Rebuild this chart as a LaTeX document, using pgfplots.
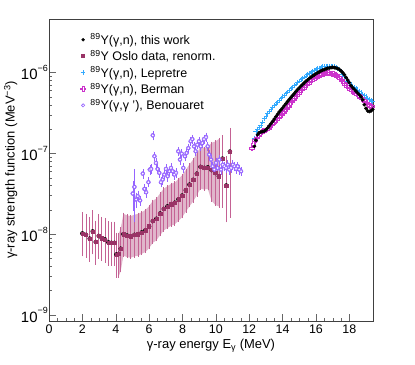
\documentclass[border=0pt]{standalone}
\usepackage{fontspec}
\setmainfont{Liberation Sans}
\usepackage{pgfplots}
\usepackage{pgfplotstable}
\pgfplotsset{compat=1.18}
\definecolor{oslocolor}{RGB}{153,51,102}
\definecolor{oslobar}{RGB}{196,98,148}
\definecolor{oslobandcolor}{RGB}{224,182,203}
\definecolor{lepcolor}{RGB}{51,170,255}
\definecolor{bermancolor}{RGB}{204,51,204}
\definecolor{benoucolor}{RGB}{150,100,255}

\newcommand{\pw}[1]{10\raisebox{0.55em}{\fontsize{9}{9}\selectfont #1}}

% open cross marker (ROOT style 28)
\pgfdeclareplotmark{ocross}{%
  \pgfpathmoveto{\pgfqpoint{-0.33\pgfplotmarksize}{\pgfplotmarksize}}%
  \pgfpathlineto{\pgfqpoint{0.33\pgfplotmarksize}{\pgfplotmarksize}}%
  \pgfpathlineto{\pgfqpoint{0.33\pgfplotmarksize}{0.33\pgfplotmarksize}}%
  \pgfpathlineto{\pgfqpoint{\pgfplotmarksize}{0.33\pgfplotmarksize}}%
  \pgfpathlineto{\pgfqpoint{\pgfplotmarksize}{-0.33\pgfplotmarksize}}%
  \pgfpathlineto{\pgfqpoint{0.33\pgfplotmarksize}{-0.33\pgfplotmarksize}}%
  \pgfpathlineto{\pgfqpoint{0.33\pgfplotmarksize}{-\pgfplotmarksize}}%
  \pgfpathlineto{\pgfqpoint{-0.33\pgfplotmarksize}{-\pgfplotmarksize}}%
  \pgfpathlineto{\pgfqpoint{-0.33\pgfplotmarksize}{-0.33\pgfplotmarksize}}%
  \pgfpathlineto{\pgfqpoint{-\pgfplotmarksize}{-0.33\pgfplotmarksize}}%
  \pgfpathlineto{\pgfqpoint{-\pgfplotmarksize}{0.33\pgfplotmarksize}}%
  \pgfpathlineto{\pgfqpoint{-0.33\pgfplotmarksize}{0.33\pgfplotmarksize}}%
  \pgfpathclose
  \pgfusepathqstroke}

% Oslo data: energy, value, error up, error down
\pgfplotstableread{
x y ep em
2.00 1.02e-8 0.78e-8 0.47e-8
2.22 0.98e-8 0.74e-8 0.45e-8
2.44 0.88e-8 0.70e-8 0.41e-8
2.62 1.08e-8 0.84e-8 0.50e-8
2.80 0.80e-8 0.62e-8 0.37e-8
2.98 0.95e-8 0.75e-8 0.44e-8
3.16 0.89e-8 0.69e-8 0.41e-8
3.36 0.86e-8 0.67e-8 0.40e-8
3.56 0.79e-8 0.61e-8 0.37e-8
3.74 0.78e-8 0.60e-8 0.36e-8
3.92 0.78e-8 0.60e-8 0.36e-8
4.04 0.56e-8 0.44e-8 0.26e-8
4.18 0.57e-8 0.44e-8 0.27e-8
4.30 0.66e-8 0.52e-8 0.31e-8
4.46 1.00e-8 0.78e-8 0.46e-8
4.68 0.96e-8 0.75e-8 0.44e-8
4.90 0.94e-8 0.73e-8 0.43e-8
5.12 0.98e-8 0.76e-8 0.45e-8
5.34 1.00e-8 0.78e-8 0.46e-8
5.56 1.05e-8 0.82e-8 0.48e-8
5.78 1.12e-8 0.87e-8 0.52e-8
6.00 1.25e-8 0.97e-8 0.58e-8
6.22 1.45e-8 1.13e-8 0.67e-8
6.44 1.55e-8 1.21e-8 0.71e-8
6.66 1.80e-8 1.40e-8 0.83e-8
6.88 2.05e-8 1.60e-8 0.94e-8
7.10 2.20e-8 1.72e-8 1.01e-8
7.32 2.35e-8 1.83e-8 1.08e-8
7.54 2.45e-8 1.91e-8 1.13e-8
7.76 2.70e-8 2.11e-8 1.24e-8
7.98 3.00e-8 2.34e-8 1.38e-8
8.20 3.50e-8 2.73e-8 1.61e-8
8.42 4.10e-8 3.20e-8 1.89e-8
8.64 4.70e-8 3.67e-8 2.16e-8
8.86 5.60e-8 4.37e-8 2.58e-8
9.08 6.80e-8 5.30e-8 3.13e-8
9.30 6.60e-8 5.10e-8 3.04e-8
9.52 6.70e-8 5.20e-8 3.08e-8
9.74 6.20e-8 7.30e-8 3.60e-8
9.96 5.70e-8 8.30e-8 3.40e-8
10.18 5.20e-8 9.80e-8 3.00e-8
10.40 8.60e-8 7.60e-8 6.40e-8
10.62 4.00e-8 5.00e-8 2.55e-8
10.84 1.05e-7 9.50e-8 8.84e-8
}\oslo

% shaded band of the Oslo data: upper edge left to right, lower edge back
\pgfplotstableread{
x y
4.18 1.01e-8
4.30 1.18e-8
4.46 1.78e-8
4.68 1.71e-8
4.90 1.67e-8
5.12 1.74e-8
5.34 1.78e-8
5.56 1.87e-8
5.78 1.99e-8
6.00 2.22e-8
6.22 2.58e-8
6.44 2.76e-8
6.66 3.20e-8
6.88 3.65e-8
7.10 3.92e-8
7.32 4.18e-8
7.54 4.36e-8
7.76 4.81e-8
7.98 5.34e-8
8.20 6.23e-8
8.42 7.30e-8
8.64 8.37e-8
8.86 9.97e-8
9.08 1.21e-7
9.30 1.17e-7
9.52 1.19e-7
9.74 1.35e-7
9.96 1.40e-7
10.18 1.50e-7
10.18 2.20e-8
9.96 2.30e-8
9.74 2.60e-8
9.52 3.62e-8
9.30 3.56e-8
9.08 3.67e-8
8.86 3.02e-8
8.64 2.54e-8
8.42 2.21e-8
8.20 1.89e-8
7.98 1.62e-8
7.76 1.46e-8
7.54 1.32e-8
7.32 1.27e-8
7.10 1.19e-8
6.88 1.11e-8
6.66 9.7e-9
6.44 8.4e-9
6.22 7.8e-9
6.00 6.7e-9
5.78 6.0e-9
5.56 5.7e-9
5.34 5.4e-9
5.12 5.3e-9
4.90 5.1e-9
4.68 5.2e-9
4.46 5.4e-9
4.30 3.5e-9
4.18 3.0e-9
}\osloband

% Benouaret (gamma,gamma')
\pgfplotstableread{
x y e
5.02 3.18e-8 1.2e-8
5.12 3.84e-8 2.4e-8
5.22 2.68e-8 0.5e-8
5.32 2.95e-8 0.4e-8
5.46 2.61e-8 0.3e-8
5.62 5.61e-8 0.6e-8
5.72 3.63e-8 0.4e-8
5.82 3.30e-8 0.4e-8
5.96 4.39e-8 0.5e-8
6.04 6.29e-8 0.7e-8
6.12 6.41e-8 0.7e-8
6.22 1.67e-7 0.18e-7
6.32 9.20e-8 0.9e-8
6.41 7.60e-8 0.8e-8
6.51 6.41e-8 0.7e-8
6.61 5.73e-8 0.6e-8
6.71 4.39e-8 0.5e-8
6.81 4.73e-8 0.5e-8
6.91 5.46e-8 0.6e-8
7.01 6.41e-8 0.7e-8
7.11 5.20e-8 0.6e-8
7.21 6.00e-8 0.6e-8
7.31 6.59e-8 0.7e-8
7.41 6.00e-8 0.6e-8
7.51 5.46e-8 0.6e-8
7.61 5.73e-8 0.6e-8
7.75 1.06e-7 0.11e-7
7.85 8.36e-8 0.9e-8
7.95 9.91e-8 1.0e-8
8.05 6.59e-8 0.7e-8
8.15 9.20e-8 0.9e-8
8.25 1.01e-7 0.10e-7
8.35 1.16e-7 0.12e-7
8.49 1.41e-7 0.14e-7
8.59 1.50e-7 0.15e-7
8.69 1.22e-7 0.12e-7
8.79 1.06e-7 0.11e-7
8.89 1.28e-7 0.13e-7
8.99 1.41e-7 0.14e-7
9.09 1.22e-7 0.12e-7
9.19 1.34e-7 0.13e-7
9.29 1.50e-7 0.15e-7
9.41 1.59e-7 0.16e-7
9.51 1.22e-7 0.12e-7
9.61 9.64e-8 1.0e-8
9.71 8.36e-8 0.9e-8
9.81 6.91e-8 0.7e-8
9.91 6.29e-8 0.7e-8
10.01 7.60e-8 0.8e-8
10.11 6.59e-8 0.7e-8
10.21 8.36e-8 0.9e-8
10.31 6.29e-8 0.7e-8
10.41 7.24e-8 0.8e-8
10.51 6.91e-8 0.7e-8
10.61 6.59e-8 0.7e-8
10.71 7.24e-8 0.8e-8
10.81 6.29e-8 0.7e-8
10.91 6.59e-8 0.7e-8
11.01 7.24e-8 0.8e-8
11.11 6.91e-8 0.7e-8
11.21 6.41e-8 0.7e-8
11.31 6.91e-8 0.7e-8
11.41 6.29e-8 0.7e-8
11.51 6.00e-8 0.6e-8
}\benou

% this work
\pgfplotstableread{
x y
12.31 1.22e-7
12.40 1.45e-7
12.50 1.70e-7
12.60 1.80e-7
12.70 1.84e-7
12.80 1.86e-7
12.90 1.88e-7
13.00 1.95e-7
13.10 2.05e-7
13.20 2.18e-7
13.30 2.32e-7
13.40 2.48e-7
13.50 2.65e-7
13.60 2.85e-7
13.70 3.05e-7
13.80 3.25e-7
13.90 3.45e-7
14.00 3.65e-7
14.10 3.88e-7
14.20 4.12e-7
14.30 4.37e-7
14.40 4.65e-7
14.50 4.92e-7
14.60 5.20e-7
14.70 5.50e-7
14.80 5.82e-7
14.90 6.15e-7
15.00 6.45e-7
15.10 6.80e-7
15.20 7.10e-7
15.30 7.45e-7
15.40 7.80e-7
15.50 8.10e-7
15.60 8.45e-7
15.70 8.75e-7
15.80 9.05e-7
15.90 9.35e-7
16.00 9.65e-7
16.10 9.95e-7
16.20 1.02e-6
16.30 1.05e-6
16.40 1.07e-6
16.50 1.09e-6
16.60 1.11e-6
16.70 1.13e-6
16.80 1.14e-6
16.90 1.15e-6
17.00 1.16e-6
17.10 1.15e-6
17.20 1.14e-6
17.30 1.12e-6
17.40 1.09e-6
17.50 1.05e-6
17.60 1.00e-6
17.70 9.40e-7
17.80 8.70e-7
17.90 8.10e-7
18.00 7.50e-7
18.10 6.90e-7
18.20 6.50e-7
18.30 6.20e-7
18.40 5.90e-7
18.50 5.60e-7
18.60 5.30e-7
18.70 5.00e-7
18.80 4.60e-7
18.90 4.00e-7
19.00 3.60e-7
19.10 3.35e-7
19.20 3.30e-7
19.30 3.35e-7
19.40 3.50e-7
}\thiswork

% Lepretre
\pgfplotstableread{
x y
12.30 1.55e-7
12.40 1.85e-7
12.50 2.00e-7
12.60 2.10e-7
12.70 2.25e-7
12.80 2.45e-7
12.90 2.70e-7
13.00 2.90e-7
13.10 3.10e-7
13.20 3.30e-7
13.30 3.50e-7
13.40 3.70e-7
13.50 3.90e-7
13.60 4.10e-7
13.70 4.30e-7
13.80 4.50e-7
13.90 4.75e-7
14.00 5.00e-7
14.10 5.25e-7
14.20 5.50e-7
14.30 5.75e-7
14.40 6.00e-7
14.50 6.30e-7
14.60 6.60e-7
14.70 6.90e-7
14.80 7.20e-7
14.90 7.50e-7
15.00 7.85e-7
15.10 8.20e-7
15.20 8.50e-7
15.30 8.80e-7
15.40 9.10e-7
15.50 9.40e-7
15.60 9.70e-7
15.70 1.00e-6
15.80 1.03e-6
15.90 1.06e-6
16.00 1.09e-6
16.10 1.12e-6
16.20 1.14e-6
16.30 1.16e-6
16.40 1.18e-6
16.50 1.19e-6
16.60 1.20e-6
16.70 1.20e-6
16.80 1.20e-6
16.90 1.20e-6
17.00 1.19e-6
17.10 1.18e-6
17.20 1.16e-6
17.30 1.13e-6
17.40 1.09e-6
17.50 1.03e-6
17.60 9.60e-7
17.70 9.00e-7
17.80 8.40e-7
17.90 7.90e-7
18.00 7.50e-7
18.10 7.10e-7
18.20 6.80e-7
18.30 6.55e-7
18.40 6.30e-7
18.50 6.10e-7
18.60 5.85e-7
18.70 5.60e-7
18.80 5.40e-7
18.90 5.20e-7
19.00 5.00e-7
19.10 4.80e-7
19.20 4.65e-7
19.30 4.50e-7
19.40 4.35e-7
}\lepretre

% Berman
\pgfplotstableread{
x y
12.15 1.16e-7
12.25 1.30e-7
12.35 1.45e-7
12.45 1.55e-7
12.55 1.65e-7
12.65 1.75e-7
12.75 1.85e-7
12.85 1.90e-7
12.95 1.93e-7
13.05 1.98e-7
13.15 2.05e-7
13.25 2.15e-7
13.35 2.25e-7
13.45 2.37e-7
13.55 2.50e-7
13.65 2.62e-7
13.75 2.75e-7
13.85 2.88e-7
13.95 3.05e-7
14.05 3.22e-7
14.15 3.40e-7
14.25 3.60e-7
14.35 3.85e-7
14.45 4.10e-7
14.55 4.40e-7
14.65 4.70e-7
14.75 4.95e-7
14.85 5.20e-7
14.95 5.50e-7
15.05 5.80e-7
15.15 6.10e-7
15.25 6.40e-7
15.35 6.70e-7
15.45 7.05e-7
15.55 7.35e-7
15.65 7.70e-7
15.75 8.00e-7
15.85 8.30e-7
15.95 8.60e-7
16.05 8.85e-7
16.15 9.10e-7
16.25 9.40e-7
16.35 9.55e-7
16.45 9.70e-7
16.55 9.80e-7
16.65 9.85e-7
16.75 9.85e-7
16.85 9.80e-7
16.95 9.70e-7
17.05 9.60e-7
17.15 9.40e-7
17.25 9.15e-7
17.35 8.80e-7
17.45 8.50e-7
17.55 8.00e-7
17.65 7.50e-7
17.75 7.10e-7
17.85 6.80e-7
17.95 6.50e-7
18.05 6.25e-7
18.15 6.00e-7
18.25 5.80e-7
18.35 5.60e-7
18.45 5.40e-7
18.55 5.20e-7
18.65 5.05e-7
18.75 4.80e-7
18.85 4.55e-7
18.95 4.35e-7
19.05 4.20e-7
19.15 4.00e-7
19.25 3.90e-7
19.35 3.80e-7
}\berman

\begin{document}
\begin{tikzpicture}
\useasboundingbox (-49bp,-44bp) rectangle (366bp,321bp);
\begin{axis}[
  at={(0,0)}, anchor=south west,
  scale only axis, width=324bp, height=302bp,
  xmin=0, xmax=19.42,
  ymode=log, ymin=8.4e-10, ymax=4.6e-6,
  xtick={0,2,...,18}, minor x tick num=3,
  ytick={1e-9,1e-8,1e-7,1e-6},
  yticklabels={\pw{−9},\pw{−8},\pw{−7},\pw{−6}},
  tick align=inside, tick pos=left,
  major tick length=7bp, minor tick length=3.5bp,
  axis line style={black!75}, tick style={black!60},
  /pgf/number format/assume math mode=true,
  xticklabel style={font=\fontsize{12.5}{14}\selectfont},
  yticklabel style={font=\fontsize{15}{16}\selectfont, inner sep=1bp},
  label style={font=\fontsize{13}{15}\selectfont},
  xlabel style={yshift=1bp},
  ylabel style={yshift=-1bp},
  xlabel={γ-ray energy E\textsubscript{γ} (MeV)},
  ylabel={γ-ray strength function (MeV\textsuperscript{−3})},
  legend style={at={(0.088,0.965)}, anchor=north west, draw=none, fill=none,
    font=\fontsize{12.5}{14}\selectfont, row sep=0.5bp,
    nodes={inner xsep=5bp}},
  legend cell align=left,
]
% legend entries first
\addlegendimage{only marks, mark=*, mark size=1.5pt, black}
\addlegendentry{\textsuperscript{89}Y(γ,n), this work}
\addlegendimage{only marks, mark=square*, mark size=1.5pt, oslocolor}
\addlegendentry{\textsuperscript{89}Y Oslo data, renorm.}
\addlegendimage{only marks, mark=+, mark size=2.4pt, lepcolor, mark options={line width=0.6pt}}
\addlegendentry{\textsuperscript{89}Y(γ,n), Lepretre}
\addlegendimage{only marks, mark=ocross, mark size=2.4pt, bermancolor, mark options={line width=0.6pt}}
\addlegendentry{\textsuperscript{89}Y(γ,n), Berman}
\addlegendimage{only marks, mark=o, mark size=1.6pt, benoucolor, mark options={line width=0.6pt}}
\addlegendentry{\textsuperscript{89}Y(γ,γ '), Benouaret}

\addplot[forget plot, fill=oslobandcolor, draw=none] table[x=x,y=y]{\osloband};

% Oslo: error bars first, squares on top
\addplot[forget plot, only marks, mark=none,
  error bars/.cd, y dir=both, y explicit,
  error bar style={oslobar, line width=0.6pt},
  error mark options={oslobar, mark size=1.2pt, line width=0.6pt}]
  table[x=x, y=y, y error plus=ep, y error minus=em]{\oslo};
\addplot[forget plot, only marks, mark=square*, mark size=1.6pt, oslocolor] table[x=x, y=y]{\oslo};

% Benouaret: error bars, then open circles with white inside
\addplot[forget plot, only marks, mark=none, benoucolor,
  error bars/.cd, y dir=both, y explicit,
  error bar style={benoucolor, line width=0.5pt},
  error mark options={benoucolor, mark size=1pt, line width=0.5pt}]
  table[x=x, y=y, y error=e]{\benou};
\addplot[forget plot, only marks, mark=*, mark size=1.7pt, mark options={draw=benoucolor, fill=white, line width=0.6pt}]
  table[x=x, y=y]{\benou};

\addplot[forget plot, only marks, mark=+, mark size=2.4pt, lepcolor, mark options={line width=0.6pt}] table[x=x,y=y]{\lepretre};
\addplot[forget plot, only marks, mark=ocross, mark size=2.4pt, bermancolor, mark options={line width=0.6pt}] table[x=x,y=y]{\berman};
\addplot[forget plot, only marks, mark=*, mark size=1.7pt, black] table[x=x,y=y]{\thiswork};
\end{axis}
\end{tikzpicture}
\end{document}
